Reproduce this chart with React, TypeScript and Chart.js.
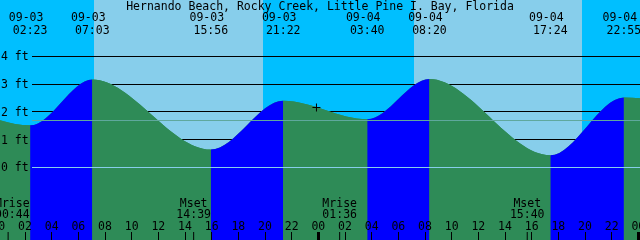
import React, { useEffect, useRef } from "react";
import { Chart, registerables } from "chart.js";

Chart.register(...registerables);

// ---- data ----
const title = "Hernando Beach, Rocky Creek, Little Pine I. Bay, Florida";

// tide extremes shown on the chart
const eventDates = ["09-03", "09-03", "09-03", "09-03", "09-04", "09-04", "09-04", "09-04"];
const eventTimes = ["02:23", "07:03", "15:56", "21:22", "03:40", "08:20", "17:24", "22:55"];
const eventFeet = [1.51, 3.17, 0.64, 2.4, 1.73, 3.18, 0.43, 2.52];

// extremes just outside the visible window (estimated)
const prevExtremeHour = -3.6;
const prevExtremeFeet = 2.3;
const nextExtremeHour = 53.9;
const nextExtremeFeet = 1.9;

// sun
const sunriseDates = ["09-03", "09-04"];
const sunriseTimes = ["07:11", "07:11"];
const sunsetDates = ["09-03", "09-04"];
const sunsetTimes = ["19:52", "19:47"];

// moon
const moonLabels = ["Mrise", "Mset", "Mrise", "Mset"];
const moonDates = ["09-03", "09-03", "09-04", "09-04"];
const moonTimes = ["00:44", "14:39", "01:36", "15:40"];

// axis levels
const footLevels = [0, 1, 2, 3, 4];
const meanSeaLevel = 1.68;
const hourTicks = [0, 2, 4, 6, 8, 10, 12, 14, 16, 18, 20, 22, 24, 26, 28, 30, 32, 34, 36, 38, 40, 42, 44, 46, 48];

// "now" mark
const markHour = 23.86;
const markFeet = 2.155;

// window
const xMin = 0.125;
const xMax = 48.125;
const yMin = -2.628;
const yMax = 6.036;

// ---- colors ----
const NIGHT = "#00BFFF";
const DAY = "#87CEEB";
const RISING = "#0000FF";
const FALLING = "#2E8B57";
const DATUM = "#87CEEB";
const MSL = "#5FA89D";
const FONT = '11.5px "DejaVu Sans Mono", "Liberation Mono", monospace';

const toHour = (d: string, t: string) =>
  (parseInt(d.slice(3), 10) - 3) * 24 + parseInt(t.slice(0, 2), 10) + parseInt(t.slice(3), 10) / 60;

const pad2 = (n: number) => (n < 10 ? "0" + n : "" + n);

const overlay = {
  id: "xtideOverlay",
  beforeDatasetsDraw(chart: any) {
    const { ctx, chartArea: a, scales } = chart;
    const x = scales.x;
    const y = scales.y;
    ctx.save();
    ctx.fillStyle = NIGHT;
    ctx.fillRect(a.left, a.top, a.width, a.height);
    ctx.fillStyle = DAY;
    for (let i = 0; i < sunriseDates.length; i++) {
      const x0 = Math.round(x.getPixelForValue(toHour(sunriseDates[i], sunriseTimes[i])));
      const x1 = Math.round(x.getPixelForValue(toHour(sunsetDates[i], sunsetTimes[i])));
      ctx.fillRect(x0, a.top, x1 - x0, a.height);
    }
    ctx.strokeStyle = "#000";
    ctx.lineWidth = 1;
    for (const f of footLevels) {
      if (f === 0) continue;
      const py = Math.floor(y.getPixelForValue(f)) + 0.5;
      ctx.beginPath();
      ctx.moveTo(32, py);
      ctx.lineTo(a.right, py);
      ctx.stroke();
    }
    ctx.restore();
  },
  afterDatasetsDraw(chart: any) {
    const { ctx, chartArea: a, scales } = chart;
    const x = scales.x;
    const y = scales.y;
    ctx.save();
    ctx.lineWidth = 1;
    // datum & mean lines
    const drawH = (v: number, c: string) => {
      const py = Math.floor(y.getPixelForValue(v)) + 0.5;
      ctx.strokeStyle = c;
      ctx.beginPath();
      ctx.moveTo(32, py);
      ctx.lineTo(a.right, py);
      ctx.stroke();
    };
    drawH(0, DATUM);
    drawH(meanSeaLevel, MSL);

    ctx.font = FONT;
    ctx.fillStyle = "#000";
    ctx.textBaseline = "alphabetic";

    // foot labels
    ctx.textAlign = "left";
    for (const f of footLevels) {
      const py = y.getPixelForValue(f);
      ctx.fillText(f + " ft", 1, Math.round(py) + 4);
    }

    // title
    ctx.textAlign = "center";
    ctx.fillText(title, (a.left + a.right) / 2, 10);

    // tide event labels
    for (let i = 0; i < eventDates.length; i++) {
      const px = x.getPixelForValue(toHour(eventDates[i], eventTimes[i]));
      ctx.fillText(eventDates[i], px - 4, 21);
      ctx.fillText(eventTimes[i], px, 34);
    }

    // hour ticks & labels
    ctx.strokeStyle = "#000";
    for (const h of hourTicks) {
      const px = x.getPixelForValue(h);
      if (h % 24 === 0) {
        ctx.fillRect(Math.round(px) - 1, 232, 3, 8);
      } else {
        const sx = Math.floor(px) + 0.5;
        ctx.beginPath();
        ctx.moveTo(sx, 232);
        ctx.lineTo(sx, 240);
        ctx.stroke();
      }
      ctx.fillText(pad2(h % 24), px, 229.5);
    }

    // moon events
    for (let i = 0; i < moonLabels.length; i++) {
      const px = x.getPixelForValue(toHour(moonDates[i], moonTimes[i]));
      ctx.beginPath();
      ctx.moveTo(px, 232);
      ctx.lineTo(px, 240);
      ctx.stroke();
      const w = Math.max(ctx.measureText(moonLabels[i]).width, ctx.measureText(moonTimes[i]).width);
      let cx = px;
      if (cx - w / 2 < -5) cx = -5 + w / 2;
      ctx.fillText(moonLabels[i], cx, 206.5);
      ctx.fillText(moonTimes[i], cx, 217.5);
    }
    ctx.restore();
  },
};

export default function App() {
  const ref = useRef<HTMLCanvasElement | null>(null);

  useEffect(() => {
    if (!ref.current) return;
    const tidePoints = [{ x: prevExtremeHour, y: prevExtremeFeet }];
    for (let i = 0; i < eventDates.length; i++) {
      tidePoints.push({ x: toHour(eventDates[i], eventTimes[i]), y: eventFeet[i] });
    }
    tidePoints.push({ x: nextExtremeHour, y: nextExtremeFeet });

    const chart = new Chart(ref.current, {
      type: "line",
      data: {
        datasets: [
          {
            type: "scatter",
            data: [{ x: markHour, y: markFeet }],
            pointStyle: "cross",
            pointRadius: 4,
            borderColor: "#000",
            backgroundColor: "#000",
            borderWidth: 1,
            order: 1,
          } as any,
          {
            type: "line",
            data: tidePoints,
            borderWidth: 0,
            borderColor: "rgba(0,0,0,0)",
            pointRadius: 0,
            fill: "start",
            backgroundColor: FALLING,
            cubicInterpolationMode: "monotone",
            segment: {
              backgroundColor: (c: any) => (c.p1.parsed.y > c.p0.parsed.y ? RISING : FALLING),
            },
            order: 2,
          } as any,
          {
            // plain underlay of the same curve so segment seams don't show the sky
            type: "line",
            data: tidePoints,
            borderWidth: 0,
            borderColor: "rgba(0,0,0,0)",
            pointRadius: 0,
            fill: "start",
            backgroundColor: FALLING,
            cubicInterpolationMode: "monotone",
            order: 3,
          } as any,
        ],
      },
      options: {
        responsive: false,
        maintainAspectRatio: false,
        animation: false,
        events: [],
        layout: { padding: 0, autoPadding: false },
        scales: {
          x: { type: "linear", min: xMin, max: xMax, display: false },
          y: { type: "linear", min: yMin, max: yMax, display: false },
        },
        plugins: {
          legend: { display: false },
          tooltip: { enabled: false },
        },
      },
      plugins: [overlay],
    });
    return () => chart.destroy();
  }, []);

  return (
    <div style={{ position: "absolute", left: 0, top: 0, width: 640, height: 240 }}>
      <canvas ref={ref} width={640} height={240} style={{ display: "block", width: 640, height: 240 }} />
    </div>
  );
}
